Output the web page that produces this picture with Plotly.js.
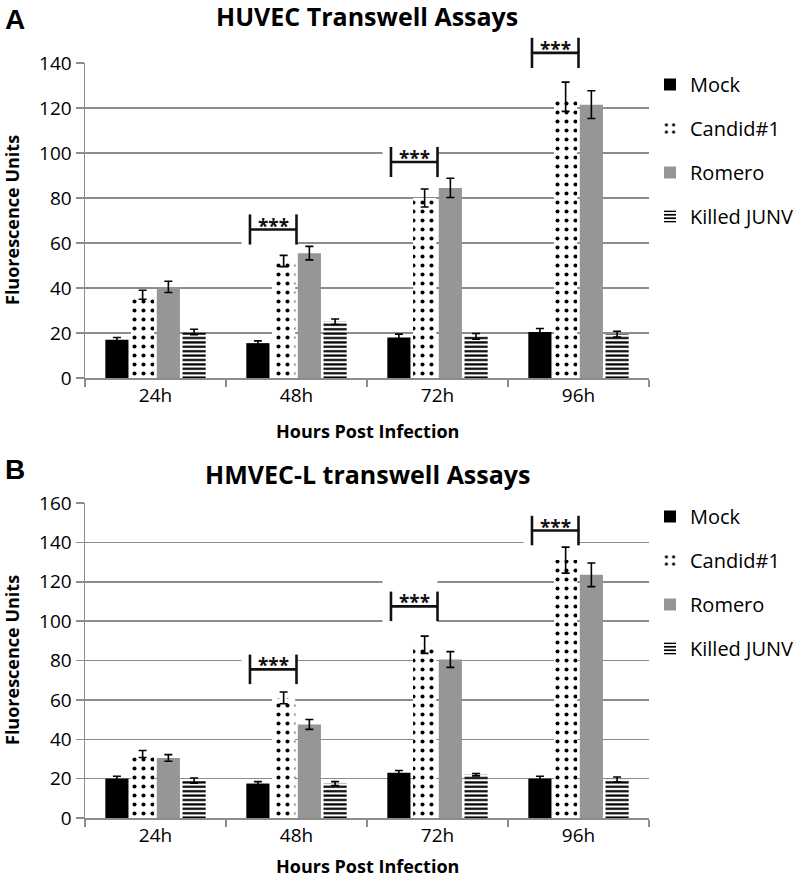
<!DOCTYPE html>
<html>
<head>
<meta charset="utf-8">
<script src="https://cdn.plot.ly/plotly-3.0.1.min.js"></script>
<style>html,body{margin:0;padding:0;background:#fff;}#chart{width:800px;height:880px;}</style>
</head>
<body>
<div id="chart"></div>
<script>
// ---- data ----
const categories = ['24h', '48h', '72h', '96h'];
const seriesNames = ['Mock', 'Candid#1', 'Romero', 'Killed JUNV'];

// Panel A: HUVEC
const huvecMock = [17, 15.5, 18, 20.5];
const huvecMockErr = [1, 1, 1.5, 1.5];
const huvecCandid = [37, 52, 80, 125];
const huvecCandidErr = [2, 2.5, 4, 6.5];
const huvecRomero = [40.5, 55.5, 84.5, 121.5];
const huvecRomeroErr = [2.5, 3, 4.3, 6.2];
const huvecKilled = [20.5, 25, 18.5, 19.5];
const huvecKilledErr = [1.2, 1.2, 1.3, 1.3];

// Panel B: HMVEC-L
const hmvecMock = [20, 17.5, 23, 20];
const hmvecMockErr = [1.2, 1, 1.1, 1.2];
const hmvecCandid = [32.5, 61, 88, 131];
const hmvecCandidErr = [1.8, 3, 4.4, 6.6];
const hmvecRomero = [30.5, 47.5, 80.5, 123.5];
const hmvecRomeroErr = [1.7, 2.5, 4, 6];
const hmvecKilled = [19, 17.5, 22, 19.5];
const hmvecKilledErr = [1.3, 1, 0.6, 1.3];

// significance markers (*** brackets): category, bracket level, backing box
const huvecSigCats = ['48h', '72h', '96h'];
const huvecSigLevel = [66, 96, 144.5];
const huvecSigBox = [[56, 76], [89, 106], [133, 155]];
const hmvecSigCats = ['48h', '72h', '96h'];
const hmvecSigLevel = [75.5, 107.5, 146];
const hmvecSigBox = [[66, 86], [97, 122], [138.5, 156]];
const sigLabel = '***';

// ---- styling ----
const FONT = 'Open Sans, Lato, sans-serif';
const GRID = '#8c8c8c';
const ROMERO = '#969696';
const H = 880, W = 800;
const px = v => v / W;
const py = v => 1 - v / H;

function styleFor(i) {
  if (i === 0) return {color: '#000000'};
  if (i === 1) return {color: '#ffffff', pattern: {shape: '.', fgcolor: '#000000', bgcolor: '#ffffff', size: 9, solidity: 0.16, fillmode: 'replace'}};
  if (i === 2) return {color: ROMERO};
  return {color: '#ffffff', pattern: {shape: '-', fgcolor: '#000000', bgcolor: '#ffffff', size: 4.4, solidity: 0.5, fillmode: 'replace'}};
}

function makeTraces(vals, errs, xa, ya, legendId) {
  return vals.map((v, i) => ({
    type: 'bar',
    name: seriesNames[i],
    x: categories,
    y: v,
    xaxis: xa,
    yaxis: ya,
    legend: legendId,
    legendgroup: legendId + i,
    marker: Object.assign({line: {width: 0}}, styleFor(i)),
    error_y: {type: 'data', array: errs[i], visible: true, color: '#000000', thickness: 1.6, width: 4},
    hoverinfo: 'x+y+name'
  }));
}

const traces = []
  .concat(makeTraces([huvecMock, huvecCandid, huvecRomero, huvecKilled],
                     [huvecMockErr, huvecCandidErr, huvecRomeroErr, huvecKilledErr], 'x', 'y', 'legend'))
  .concat(makeTraces([hmvecMock, hmvecCandid, hmvecRomero, hmvecKilled],
                     [hmvecMockErr, hmvecCandidErr, hmvecRomeroErr, hmvecKilledErr], 'x2', 'y2', 'legend2'));

const shapes = [];
const annotations = [];

function addSig(cats, levels, boxes, xref, yref, ymax, halfH) {
  cats.forEach((c, k) => {
    const ci = categories.indexOf(c);
    const x0 = ci - 0.33, x1 = ci + 0.0;
    const lv = levels[k];
    const yd = yref + ' domain';
    // white box behind bracket (hides gridlines)
    shapes.push({type: 'rect', xref: xref, yref: yd,
      x0: ci - 0.39, x1: ci + 0.0, y0: boxes[k][0] / ymax, y1: boxes[k][1] / ymax,
      fillcolor: '#ffffff', line: {width: 0}});
    const ln = {color: '#111111', width: 2.6};
    shapes.push({type: 'line', xref: xref, yref: yd, x0: x0, x1: x0, y0: (lv - halfH) / ymax, y1: (lv + halfH) / ymax, line: ln});
    shapes.push({type: 'line', xref: xref, yref: yd, x0: x1, x1: x1, y0: (lv - halfH) / ymax, y1: (lv + halfH) / ymax, line: ln});
    shapes.push({type: 'line', xref: xref, yref: yd, x0: x0, x1: x1, y0: lv / ymax, y1: lv / ymax, line: ln});
    annotations.push({xref: xref, yref: yd, x: (x0 + x1) / 2, y: lv / ymax, text: sigLabel, showarrow: false,
      yanchor: 'middle', yshift: 4, font: {family: FONT, size: 19, color: '#111111', weight: 700}});
  });
}
addSig(huvecSigCats, huvecSigLevel, huvecSigBox, 'x', 'y', 140, 6.7);
addSig(hmvecSigCats, hmvecSigLevel, hmvecSigBox, 'x2', 'y2', 160, 7.5);

function txt(text, x, y, size, opts) {
  return Object.assign({xref: 'paper', yref: 'paper', x: x, y: y, text: text, showarrow: false,
    xanchor: 'center', yanchor: 'middle', font: {family: FONT, size: size, color: '#000000', weight: 700}}, opts || {});
}
annotations.push(txt('A', px(3), py(20), 28, {xanchor: 'left', font: {family: 'Liberation Sans, Arial, sans-serif', size: 28, color: '#000', weight: 700}}));
annotations.push(txt('HUVEC Transwell Assays', px(367), py(16), 25));
annotations.push(txt('B', px(3), py(469), 28, {xanchor: 'left', font: {family: 'Liberation Sans, Arial, sans-serif', size: 28, color: '#000', weight: 700}}));
annotations.push(txt('HMVEC-L transwell Assays', px(367), py(474), 25));
annotations.push(txt('Fluorescence Units', px(12), py(220), 18, {textangle: -90}));
annotations.push(txt('Fluorescence Units', px(12), py(660), 18, {textangle: -90}));
annotations.push(txt('Hours Post Infection', px(367), py(431), 18));
annotations.push(txt('Hours Post Infection', px(367), py(866), 18));

const xdom = [px(85), px(649)];
function xAxis(anchor) {
  return {domain: xdom, anchor: anchor, type: 'category', showgrid: false, showline: true,
    linecolor: GRID, linewidth: 1.5, ticks: 'outside', tickson: 'boundaries', ticklen: 7,
    tickcolor: GRID, tickwidth: 1.5, automargin: false, fixedrange: true,
    tickfont: {family: FONT, size: 19, color: '#000000'}};
}
function yAxis(anchor, dom, ymax) {
  return {domain: dom, anchor: anchor, range: [0, ymax], dtick: 20, showgrid: true,
    gridcolor: GRID, gridwidth: 1.5, zeroline: false, showline: true, linecolor: GRID,
    linewidth: 1.5, ticks: 'outside', ticklen: 8, tickcolor: GRID, tickwidth: 1.5,
    automargin: false, fixedrange: true, tickfont: {family: FONT, size: 19, color: '#000000'}};
}

function legendAt(topPx) {
  return {x: px(650), y: py(topPx), xanchor: 'left', yanchor: 'top', bgcolor: 'rgba(0,0,0,0)',
    font: {family: FONT, size: 20, color: '#000000'}, traceorder: 'grouped', tracegroupgap: 15,
    itemwidth: 30};
}

const layout = {
  width: W, height: H,
  margin: {l: 0, r: 0, t: 0, b: 0},
  paper_bgcolor: '#ffffff', plot_bgcolor: '#ffffff',
  barmode: 'group', bargap: 0.27, bargroupgap: 0.1,
  showlegend: true,
  xaxis: xAxis('y'),
  yaxis: yAxis('x', [py(378), py(63)], 140),
  xaxis2: xAxis('y2'),
  yaxis2: yAxis('x2', [py(818), py(503)], 160),
  legend: legendAt(65),
  legend2: legendAt(497),
  shapes: shapes,
  annotations: annotations,
  font: {family: FONT, color: '#000000'}
};

Plotly.newPlot('chart', traces, layout, {displayModeBar: false, staticPlot: true});
</script>
</body>
</html>
